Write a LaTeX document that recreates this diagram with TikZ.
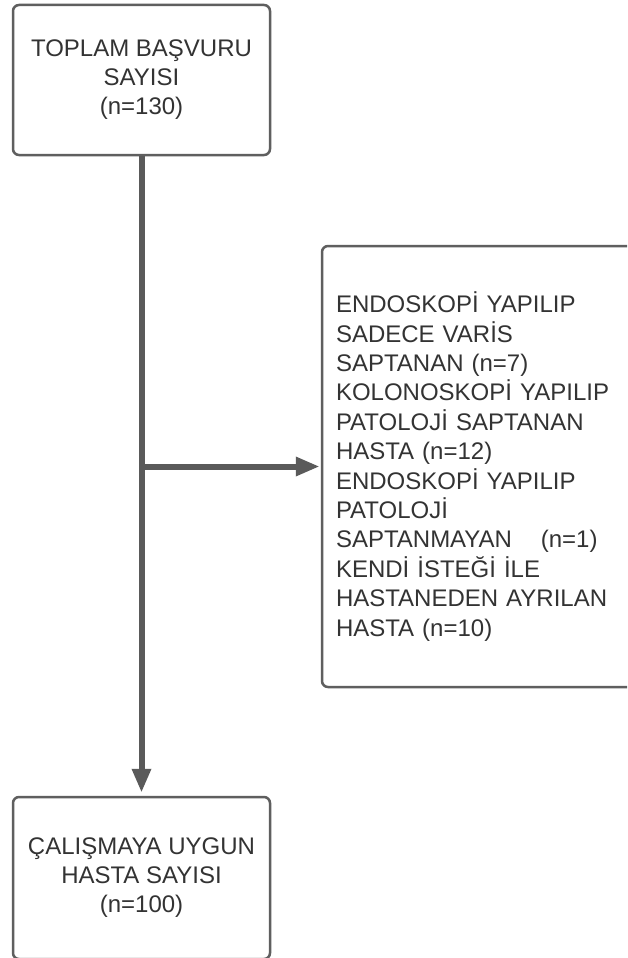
\documentclass[tikz,border=0pt]{standalone}
\usepackage{fontspec}
\setmainfont{Liberation Sans}
\usetikzlibrary{arrows.meta}
\definecolor{boxline}{HTML}{5F5F5F}
\definecolor{flowline}{HTML}{5A5A5A}
\definecolor{txt}{HTML}{333333}
\tikzset{
  flowbox/.style={draw=boxline, line width=2.5pt, rounded corners=6pt,
    fill=white, text=txt, inner sep=0pt,
    font=\fontsize{24}{29}\selectfont},
  sidebox/.style={flowbox, align=left, text width=372pt, inner xsep=14pt,
    inner ysep=0pt, minimum height=441pt,
    font=\fontsize{24}{29.4}\selectfont},
  flowarrow/.style={draw=flowline, line width=6pt,
    -{Triangle[length=24pt,width=18pt]}}
}
\begin{document}
\begin{tikzpicture}[x=1pt,y=-1pt]
  \useasboundingbox (0,0) rectangle (627,958);
  \clip (0,0) rectangle (627,958);
  \fill[white] (0,0) rectangle (627,958);

  % main boxes
  \node[flowbox, align=center, minimum width=257pt, minimum height=150pt]
    (total) at (141.5,80) {TOPLAM BAŞVURU\\SAYISI\\(n=130)};
  \node[flowbox, align=center, minimum width=257pt, minimum height=162pt]
    (eligible) at (141.5,878) {ÇALIŞMAYA UYGUN\\HASTA SAYISI\\(n=100)};

  % exclusions
  \node[sidebox] (excluded) at (522,466.5)
    {ENDOSKOPİ YAPILIP\\SADECE VARİS\\SAPTANAN (n=7)\\KOLONOSKOPİ YAPILIP\\PATOLOJİ SAPTANAN\\HASTA (n=12)\\ENDOSKOPİ YAPILIP\\PATOLOJİ\\SAPTANMAYAN\hspace{1.2em}(n=1)\\KENDİ İSTEĞİ İLE\\HASTANEDEN AYRILAN\\HASTA (n=10)};

  % connectors
  \draw[flowarrow, shorten >=3pt] (total.south) -- (eligible.north);
  \coordinate (branch) at (total.south |- excluded.west);
  \draw[flowarrow, shorten >=1pt] (branch) -- (excluded.west);
\end{tikzpicture}
\end{document}
